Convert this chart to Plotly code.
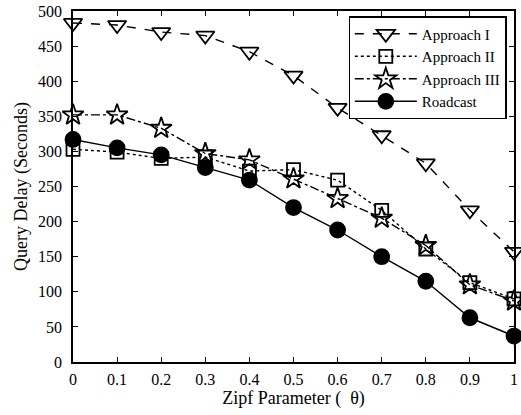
import plotly.graph_objects as go

theta = [0, 0.1, 0.2, 0.3, 0.4, 0.5, 0.6, 0.7, 0.8, 0.9, 1.0]
approach1 = [483, 480, 470, 465, 442, 408, 362, 323, 283, 216, 157]
approach2 = [303, 299, 290, 292, 272, 274, 259, 216, 161, 113, 90]
approach3 = [352, 352, 333, 297, 288, 261, 233, 205, 166, 110, 87]
roadcast = [317, 305, 295, 277, 259, 220, 188, 150, 115, 63, 37]

xticks = [0, 0.1, 0.2, 0.3, 0.4, 0.5, 0.6, 0.7, 0.8, 0.9, 1]
xticklabels = ["0", "0.1", "0.2", "0.3", "0.4", "0.5", "0.6", "0.7", "0.8", "0.9", "1"]
yticks = [0, 50, 100, 150, 200, 250, 300, 350, 400, 450, 500]

font = "Liberation Serif, Times New Roman, serif"

fig = go.Figure()
series = [
    ("Approach I", approach1, "dash", "triangle-down-open", 16, "black"),
    ("Approach II", approach2, "dot", "square-open", 13, "black"),
    ("Approach III", approach3, "dashdot", "star-open", 16, "black"),
    ("Roadcast", roadcast, "solid", "circle", 15, "black"),
]
for name, ys, dash, sym, size, col in series:
    fig.add_trace(go.Scatter(
        x=theta, y=ys, name=name, mode="lines+markers",
        line=dict(color="black", width=1.4, dash=dash),
        marker=dict(symbol=sym, size=size, color="black",
                    line=dict(color="black", width=1.8)),
        cliponaxis=False,
    ))

axis_common = dict(
    showgrid=False, zeroline=False, showline=True, linecolor="black", linewidth=1.5,
    mirror="ticks", ticks="inside", ticklen=5, tickcolor="black", tickwidth=1,
    tickfont=dict(family=font, size=16, color="black"),
)
fig.update_xaxes(range=[0, 1], tickvals=xticks, ticktext=xticklabels,
                 ticklabelstandoff=2,
                 title=dict(text="Zipf Parameter (  θ)", font=dict(family=font, size=18, color="black"), standoff=2),
                 **axis_common)
fig.update_yaxes(range=[0, 500], tickvals=yticks, ticklabelstandoff=6,
                 title=dict(text="Query Delay (Seconds)", font=dict(family=font, size=18, color="black"), standoff=6),
                 **axis_common)

fig.update_layout(
    width=521, height=415,
    margin=dict(l=73, r=3, t=10, b=53),
    plot_bgcolor="white", paper_bgcolor="white",
    font=dict(family=font, size=16, color="black"),
    legend=dict(x=0.983, y=0.985, xanchor="right", yanchor="top",
                bordercolor="black", borderwidth=1.3, bgcolor="white",
                font=dict(family=font, size=15, color="black"),
                tracegroupgap=0, itemwidth=62),
)

fig.write_html("out.html")
